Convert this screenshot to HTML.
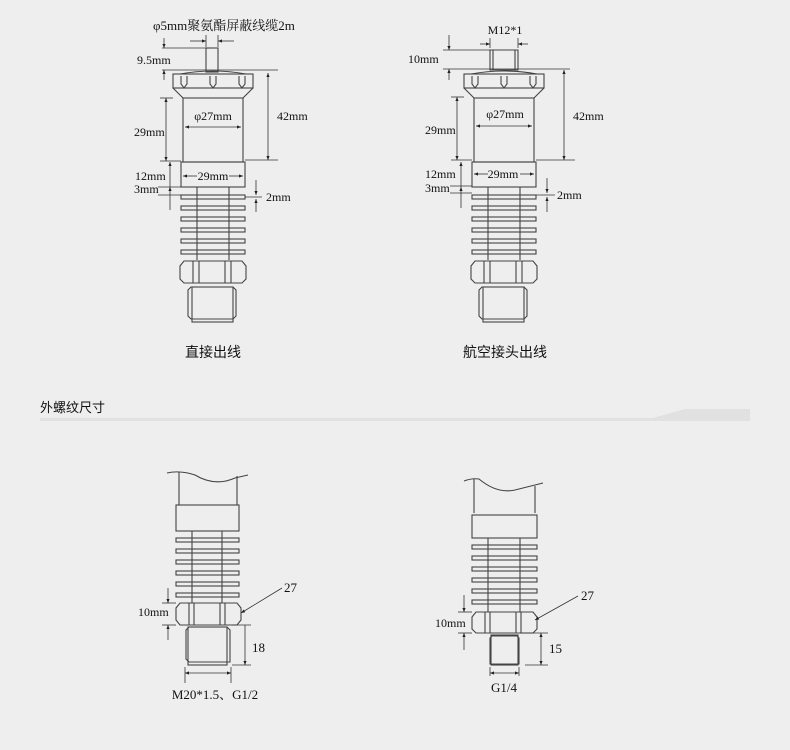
<!DOCTYPE html>
<html><head><meta charset="utf-8"><style>
html,body{margin:0;padding:0;background:#eeeeee;}
svg{display:block;}
text{font-family:"Liberation Serif","Noto Serif CJK SC",serif;fill:#111;}
.c{font-family:"Liberation Sans","Noto Sans CJK SC",sans-serif;}
</style></head><body>
<svg width="790" height="750" viewBox="0 0 790 750" xmlns="http://www.w3.org/2000/svg">
<defs>
<marker id="a" viewBox="0 0 10 10" refX="10" refY="5" markerWidth="7" markerHeight="5" orient="auto-start-reverse"><path d="M0,1 L10,5 L0,9 z" fill="#222"/></marker>
<g id="lower" fill="none" stroke="#444" stroke-width="1.1">
  <rect x="181" y="162" width="64" height="25"/>
  <line x1="197" y1="187" x2="197" y2="260"/><line x1="229" y1="187" x2="229" y2="260"/>
  <rect x="181" y="195" width="64" height="4"/><rect x="181" y="206" width="64" height="4"/>
  <rect x="181" y="217" width="64" height="4"/><rect x="181" y="228" width="64" height="4"/>
  <rect x="181" y="239" width="64" height="4"/><rect x="181" y="250" width="64" height="4"/>
  <path d="M184,261 L242,261 L246,266 L246,279 L242,283 L184,283 L180,279 L180,266 Z"/>
  <line x1="193" y1="261" x2="193" y2="283"/><line x1="199" y1="261" x2="199" y2="283"/>
  <line x1="225" y1="261" x2="225" y2="283"/><line x1="231" y1="261" x2="231" y2="283"/>
  <path d="M191,287 L233,287 L236,290 L236,316 L233,319 L191,319 L188,316 L188,290 Z"/>
  <rect x="192" y="287" width="41" height="35"/>
  <rect x="183" y="98" width="60" height="64"/>
  <rect x="173" y="74" width="80" height="14"/>
  <path d="M173,88 L183,98 M253,88 L243,98 M180,74 Q213,68 246,74"/>
  <path d="M181,76 L181,84 L184,88 L187,84 L187,76 M210,76 L210,84 L213,88 L216,84 L216,76 M239,76 L239,84 L242,88 L245,84 L245,76"/>
</g>
</defs>

<use href="#lower"/>
<rect x="206" y="48" width="12" height="24" fill="none" stroke="#444" stroke-width="1.1"/>
<g stroke="#333" stroke-width="0.8" fill="none">
  <line x1="190" y1="41" x2="206" y2="41" marker-end="url(#a)"/><line x1="234" y1="41" x2="218" y2="41" marker-end="url(#a)"/>
  <line x1="206" y1="35" x2="206" y2="47"/><line x1="218" y1="35" x2="218" y2="47"/>
  <line x1="162" y1="48" x2="210" y2="48"/><line x1="162" y1="70" x2="278" y2="70"/>
  <line x1="164" y1="38" x2="164" y2="48" marker-end="url(#a)"/><line x1="164" y1="80" x2="164" y2="70" marker-end="url(#a)"/>
  <line x1="268" y1="73" x2="268" y2="160" marker-start="url(#a)" marker-end="url(#a)"/>
  <line x1="245" y1="160" x2="278" y2="160"/>
  <line x1="160" y1="98" x2="173" y2="98"/><line x1="160" y1="161" x2="181" y2="161"/>
  <line x1="166" y1="98" x2="166" y2="161" marker-start="url(#a)" marker-end="url(#a)"/>
  <line x1="185" y1="127" x2="241" y2="127" marker-start="url(#a)" marker-end="url(#a)"/>
  <line x1="183" y1="176" x2="197" y2="176" marker-start="url(#a)"/><line x1="229" y1="176" x2="243" y2="176" marker-end="url(#a)"/>
  <line x1="170" y1="162" x2="170" y2="187" marker-start="url(#a)"/><line x1="170" y1="187" x2="170" y2="210" marker-start="url(#a)"/>
  <line x1="158" y1="187" x2="181" y2="187"/><line x1="158" y1="195" x2="181" y2="195"/>
  <line x1="256" y1="180" x2="256" y2="195" marker-end="url(#a)"/><line x1="256" y1="212" x2="256" y2="199" marker-end="url(#a)"/>
  <line x1="245" y1="197" x2="262" y2="197"/>
</g>
<text x="153" y="30" font-size="13">φ5mm聚氨酯屏蔽线缆2m</text>
<text x="137" y="64" font-size="12">9.5mm</text>
<text x="134" y="136" font-size="12">29mm</text>
<text x="277" y="120" font-size="12">42mm</text>
<text x="213" y="120" font-size="12" text-anchor="middle">φ27mm</text>
<text x="213" y="180" font-size="12" text-anchor="middle">29mm</text>
<text x="135" y="180" font-size="12">12mm</text>
<text x="134" y="193" font-size="12">3mm</text>
<text x="266" y="201" font-size="12">2mm</text>
<text class="c" x="213" y="357" font-size="14" text-anchor="middle">直接出线</text>

<use href="#lower" transform="translate(291,0)"/>
<path d="M490,50 L518,50 L518,70 L490,70 Z M493,50 L493,70 M515,50 L515,70" fill="none" stroke="#444" stroke-width="1.1"/>
<g stroke="#333" stroke-width="0.8" fill="none">
  <line x1="480" y1="44" x2="490" y2="44" marker-end="url(#a)"/><line x1="528" y1="44" x2="518" y2="44" marker-end="url(#a)"/>
  <line x1="490" y1="38" x2="490" y2="48"/><line x1="518" y1="38" x2="518" y2="48"/>
  <line x1="443" y1="50" x2="490" y2="50"/><line x1="443" y1="69" x2="570" y2="69"/>
  <line x1="449" y1="35" x2="449" y2="50" marker-end="url(#a)"/><line x1="449" y1="80" x2="449" y2="69" marker-end="url(#a)"/>
  <line x1="564" y1="70" x2="564" y2="160" marker-start="url(#a)" marker-end="url(#a)"/>
  <line x1="536" y1="160" x2="575" y2="160"/>
  <line x1="451" y1="97" x2="464" y2="97"/><line x1="451" y1="160" x2="472" y2="160"/>
  <line x1="457" y1="97" x2="457" y2="160" marker-start="url(#a)" marker-end="url(#a)"/>
  <line x1="476" y1="126" x2="532" y2="126" marker-start="url(#a)" marker-end="url(#a)"/>
  <line x1="474" y1="174" x2="488" y2="174" marker-start="url(#a)"/><line x1="520" y1="174" x2="534" y2="174" marker-end="url(#a)"/>
  <line x1="461" y1="162" x2="461" y2="187" marker-start="url(#a)"/><line x1="461" y1="187" x2="461" y2="208" marker-start="url(#a)"/>
  <line x1="450" y1="186" x2="472" y2="186"/><line x1="450" y1="193" x2="472" y2="193"/>
  <line x1="547" y1="178" x2="547" y2="193" marker-end="url(#a)"/><line x1="547" y1="212" x2="547" y2="197" marker-end="url(#a)"/>
  <line x1="536" y1="195" x2="555" y2="195"/>
</g>
<text x="505" y="34" font-size="12" text-anchor="middle">M12*1</text>
<text x="408" y="63" font-size="12">10mm</text>
<text x="425" y="134" font-size="12">29mm</text>
<text x="573" y="120" font-size="12">42mm</text>
<text x="505" y="118" font-size="12" text-anchor="middle">φ27mm</text>
<text x="503" y="178" font-size="12" text-anchor="middle">29mm</text>
<text x="425" y="178" font-size="12">12mm</text>
<text x="425" y="192" font-size="12">3mm</text>
<text x="557" y="199" font-size="12">2mm</text>
<text class="c" x="505" y="357" font-size="14" text-anchor="middle">航空接头出线</text>

<text class="c" x="40" y="412" font-size="13">外螺纹尺寸</text>
<path d="M40,418 L653,418 L685,409 L750,409 L750,421 L40,421 Z" fill="#e0e1e0"/>

<g fill="none" stroke="#444" stroke-width="1.1">
  <path d="M167,473 Q180,470 195,475 Q215,487 235,478 L248,475"/>
  <line x1="179" y1="472" x2="179" y2="505"/><line x1="237" y1="476" x2="237" y2="505"/>
  <rect x="176" y="505" width="63" height="26"/>
  <line x1="192" y1="531" x2="192" y2="603"/><line x1="222" y1="531" x2="222" y2="603"/>
  <rect x="176" y="538" width="63" height="4"/><rect x="176" y="549" width="63" height="4"/>
  <rect x="176" y="560" width="63" height="4"/><rect x="176" y="571" width="63" height="4"/>
  <rect x="176" y="582" width="63" height="4"/><rect x="176" y="593" width="63" height="4"/>
  <path d="M180,603 L237,603 L241,608 L241,620 L237,625 L180,625 L176,620 L176,608 Z"/>
  <line x1="189" y1="603" x2="189" y2="625"/><line x1="194" y1="603" x2="194" y2="625"/>
  <line x1="220" y1="603" x2="220" y2="625"/><line x1="225" y1="603" x2="225" y2="625"/>
  <path d="M189,627 L227,627 L230,630 L230,662 L189,662 L186,659 L186,630 Z"/>
  <rect x="188" y="627" width="39" height="38"/>
</g>
<g stroke="#333" stroke-width="0.8" fill="none">
  <line x1="168" y1="588" x2="168" y2="603" marker-end="url(#a)"/><line x1="168" y1="640" x2="168" y2="625" marker-end="url(#a)"/>
  <line x1="162" y1="603" x2="176" y2="603"/><line x1="162" y1="625" x2="176" y2="625"/>
  <line x1="282" y1="588" x2="241" y2="613" marker-end="url(#a)"/>
  <line x1="232" y1="625" x2="251" y2="625"/><line x1="232" y1="665" x2="251" y2="665"/>
  <line x1="245" y1="625" x2="245" y2="665" marker-end="url(#a)"/>
  <line x1="185" y1="667" x2="185" y2="683"/><line x1="231" y1="667" x2="231" y2="683"/>
  <line x1="185" y1="673" x2="231" y2="673" marker-start="url(#a)" marker-end="url(#a)"/>
</g>
<text x="138" y="616" font-size="12">10mm</text>
<text x="284" y="592" font-size="13">27</text>
<text x="252" y="652" font-size="13">18</text>
<text x="215" y="699" font-size="13" text-anchor="middle">M20*1.5、G1/2</text>

<g fill="none" stroke="#444" stroke-width="1.1">
  <path d="M464,481 Q472,478 479,479 Q497,494 515,490 L543,483"/>
  <line x1="474" y1="479" x2="474" y2="513"/><line x1="535" y1="486" x2="535" y2="513"/>
  <rect x="472" y="515" width="65" height="23"/>
  <line x1="488" y1="538" x2="488" y2="612"/><line x1="520" y1="538" x2="520" y2="612"/>
  <rect x="472" y="545" width="65" height="4"/><rect x="472" y="556" width="65" height="4"/>
  <rect x="472" y="567" width="65" height="4"/><rect x="472" y="578" width="65" height="4"/>
  <rect x="472" y="589" width="65" height="4"/><rect x="472" y="600" width="65" height="4"/>
  <path d="M476,612 L533,612 L537,617 L537,629 L533,633 L476,633 L472,629 L472,617 Z"/>
  <line x1="485" y1="612" x2="485" y2="633"/><line x1="490" y1="612" x2="490" y2="633"/>
  <line x1="516" y1="612" x2="516" y2="633"/><line x1="521" y1="612" x2="521" y2="633"/>
  <path d="M492,636 L517,636 L519,638 L519,664 L490,664 L490,638 Z"/>
  <rect x="491" y="635" width="27" height="30"/>
</g>
<g stroke="#333" stroke-width="0.8" fill="none">
  <line x1="464" y1="595" x2="464" y2="612" marker-end="url(#a)"/><line x1="464" y1="650" x2="464" y2="633" marker-end="url(#a)"/>
  <line x1="458" y1="612" x2="472" y2="612"/><line x1="458" y1="633" x2="472" y2="633"/>
  <line x1="578" y1="596" x2="535" y2="620" marker-end="url(#a)"/>
  <line x1="520" y1="633" x2="548" y2="633"/><line x1="525" y1="665" x2="548" y2="665"/>
  <line x1="541" y1="633" x2="541" y2="665" marker-start="url(#a)" marker-end="url(#a)"/>
  <line x1="490" y1="667" x2="490" y2="676"/><line x1="519" y1="667" x2="519" y2="676"/>
  <line x1="490" y1="673" x2="519" y2="673" marker-start="url(#a)" marker-end="url(#a)"/>
</g>
<text x="435" y="627" font-size="12">10mm</text>
<text x="581" y="600" font-size="13">27</text>
<text x="549" y="653" font-size="13">15</text>
<text x="504" y="692" font-size="13" text-anchor="middle">G1/4</text>
</svg>
</body></html>
